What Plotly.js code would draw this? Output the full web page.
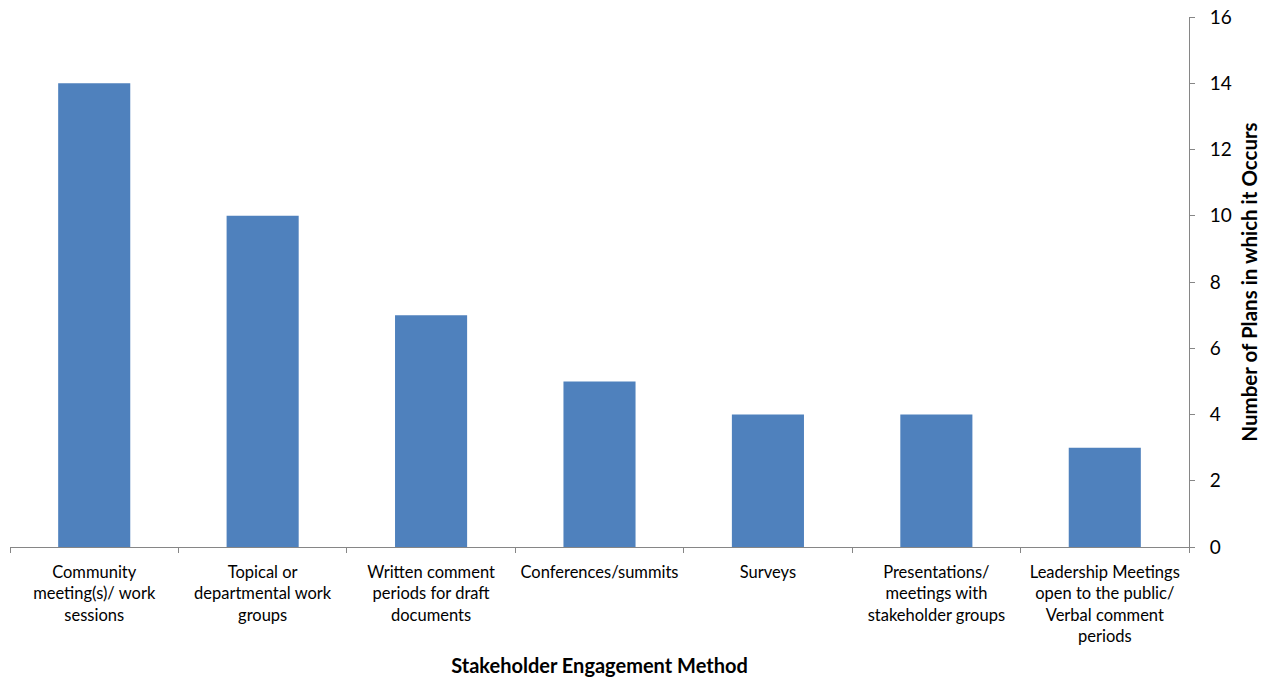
<!DOCTYPE html>
<html>
<head>
<meta charset="utf-8">
<script src="https://cdn.plot.ly/plotly-3.0.1.min.js"></script>
<style>
  html, body { margin: 0; padding: 0; background: #fff; }
  #chart { width: 1269px; height: 677px; }
</style>
</head>
<body>
<div id="chart"></div>
<script>
// Engagement methods and how many plans use each
const methods = [
  "Community<br>meeting(s)/ work<br>sessions",
  "Topical or<br>departmental work<br>groups",
  "Written comment<br>periods for draft<br>documents",
  "Conferences/summits",
  "Surveys",
  "Presentations/<br>meetings with<br>stakeholder groups",
  "Leadership Meetings<br>open to the public/<br>Verbal comment<br>periods"
];
const planCounts = [14, 10, 7, 5, 4, 4, 3];
const yTickValues = [0, 2, 4, 6, 8, 10, 12, 14, 16];

const axisGray = "#868686";
const fontFamily = "Lato, 'Open Sans', 'Liberation Sans', sans-serif";

const trace = {
  type: "bar",
  x: methods,
  y: planCounts,
  marker: { color: "#4F81BD" },
  hoverinfo: "x+y"
};

const layout = {
  width: 1269,
  height: 677,
  margin: { l: 10, r: 80, t: 17, b: 130 },
  paper_bgcolor: "#fff",
  plot_bgcolor: "#fff",
  bargap: 0.572,
  showlegend: false,
  font: { family: fontFamily, color: "#000", size: 16 },
  xaxis: {
    type: "category",
    showline: true,
    linecolor: axisGray,
    linewidth: 1,
    ticks: "outside",
    tickson: "boundaries",
    ticklen: 5,
    tickcolor: axisGray,
    showgrid: false,
    zeroline: false,
    tickangle: 0,
    ticklabelstandoff: 10,
    tickfont: { size: 16.5, family: fontFamily },
    title: {
      text: "<b>Stakeholder Engagement Method</b>",
      font: { size: 20, family: fontFamily },
      standoff: 15
    }
  },
  yaxis: {
    side: "right",
    range: [0, 16],
    tickvals: yTickValues,
    showline: true,
    linecolor: axisGray,
    linewidth: 1,
    ticks: "outside",
    ticklen: 5,
    tickcolor: axisGray,
    showgrid: false,
    zeroline: false,
    ticklabelstandoff: 11,
    tickfont: { size: 19, family: fontFamily },
    title: {
      text: "<b>Number of Plans in which it Occurs</b>",
      font: { size: 20.5, family: fontFamily },
      standoff: 11
    }
  }
};

Plotly.newPlot("chart", [trace], layout, { displayModeBar: false, staticPlot: true });
</script>
</body>
</html>
